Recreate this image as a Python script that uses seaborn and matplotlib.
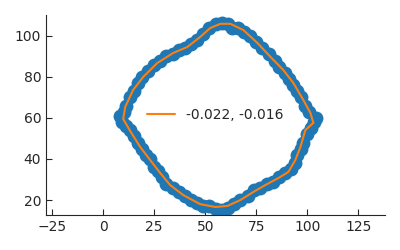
import matplotlib
matplotlib.use("Agg")
import matplotlib.pyplot as plt
import seaborn as sns
import pandas as pd

# noisy scatter points
pts_x = [103, 104, 102, 100, 98, 97, 95, 94, 92, 89, 86, 83, 80, 77, 74, 71, 67, 64, 61, 58,
         55, 52, 49, 46, 43, 40, 37, 34, 31, 29, 27, 25, 23, 21, 19, 17, 15, 13, 11, 9,
         8, 10, 11, 13, 15, 17, 19, 22, 25, 28, 31, 34, 37, 40, 43, 46, 49, 52, 55, 58,
         61, 63, 66, 69, 72, 75, 78, 81, 84, 86, 89, 91, 93, 95, 97, 99, 101]
pts_y = [58, 60, 55, 52, 48, 45, 42, 38, 35, 33, 31, 29, 28, 26, 25, 22, 20, 18, 16, 15,
         15.5, 17, 17, 18.5, 20, 22, 24, 26, 28, 31, 34, 36, 40, 42, 45, 48, 51, 54, 56, 58,
         61, 63, 66, 70, 73, 77, 80, 83, 86, 88, 90, 91, 93, 94, 96, 98, 101, 104, 106, 106.5,
         106, 104, 104, 102, 100, 97, 94, 91, 88, 85, 82, 79, 76, 73, 70, 66, 63]

# fitted closed curve
line_x = [102.9, 99.0, 96.6, 94.1, 90.7, 85.8, 79.4, 73.5, 67.2, 60.8, 54.9, 47.5, 39.2, 32.8,
          27.9, 23.0, 18.1, 13.2, 9.8, 10.8, 14.7, 19.6, 26.5, 34.3, 41.2, 47.5, 52.5, 57.4,
          62.3, 68.6, 75.5, 81.9, 88.2, 93.1, 98.0, 101.5, 102.9]
line_y = [57.6, 54.1, 45.9, 39.5, 33.7, 30.7, 27.3, 23.9, 20.0, 17.1, 16.6, 18.0, 22.4, 27.3,
          33.2, 39.5, 45.9, 53.7, 59.5, 65.4, 73.7, 80.0, 86.8, 91.7, 94.6, 99.5, 103.9, 105.9,
          105.9, 102.9, 96.6, 89.8, 83.4, 77.1, 68.8, 62.4, 57.6]
line_label = "-0.022, -0.016"

sns.set_style("ticks")
fig = plt.figure(figsize=(4, 2.5), dpi=100)
ax = fig.add_axes([0.115, 0.14, 0.8475, 0.80])

pts = pd.DataFrame({"x": pts_x, "y": pts_y})
ln = pd.DataFrame({"x": line_x, "y": line_y})
sns.scatterplot(data=pts, x="x", y="y", ax=ax, s=100, color="#1f77b4", linewidth=0, legend=False)
sns.lineplot(data=ln, x="x", y="y", ax=ax, sort=False, color="#ff7f0e", lw=1.5,
             label=line_label, estimator=None)

ax.set_xlim(-28, 138)
ax.set_ylim(12.7, 110.2)
ax.set_xticks([-25, 0, 25, 50, 75, 100, 125])
ax.set_yticks([20, 40, 60, 80, 100])
ax.set_xlabel("")
ax.set_ylabel("")
ax.tick_params(direction="in", labelsize=10, length=4)
sns.despine(ax=ax)
ax.legend(loc="center", frameon=False, fontsize=10)

fig.savefig("out.png", dpi=100)
